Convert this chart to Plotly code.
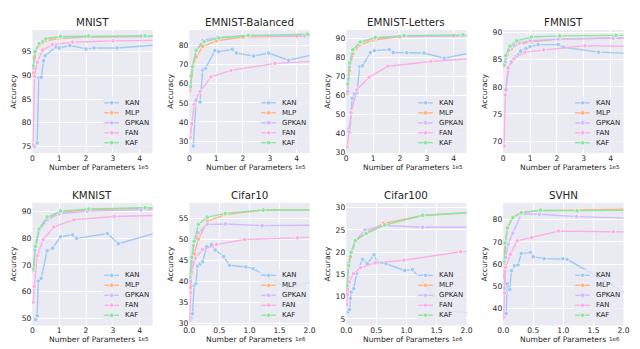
import plotly.graph_objects as go

# ---------------- data (parameters, accuracy %) ----------------
DATASETS = ["MNIST", "EMNIST-Balanced", "EMNIST-Letters", "FMNIST",
            "KMNIST", "Cifar10", "Cifar100", "SVHN"]
MODELS = ["KAN", "MLP", "GPKAN", "FAN", "KAF"]

# MNIST
MNIST_KAN_P = [0.08e5, 0.18e5, 0.24e5, 0.33e5, 0.42e5, 0.48e5, 0.88e5, 1.0e5, 1.4e5, 2.0e5, 2.3e5, 3.15e5, 4.6e5]
MNIST_KAN_A = [75.0, 75.7, 89.5, 89.6, 93.1, 94.2, 96.0, 95.8, 96.3, 95.6, 95.8, 95.8, 96.4]
MNIST_MLP_P = [0.03e5, 0.08e5, 0.15e5, 0.25e5, 0.5e5, 1.0e5, 2.0e5, 4.0e5, 4.6e5]
MNIST_MLP_A = [90.5, 93.8, 95.3, 96.3, 97.3, 97.8, 98.1, 98.2, 98.2]
MNIST_GPKAN_P = [0.05e5, 0.12e5, 0.25e5, 0.5e5, 1.0e5, 2.0e5, 4.05e5, 4.6e5]
MNIST_GPKAN_A = [91.5, 95.3, 96.8, 97.8, 98.1, 98.2, 98.3, 98.3]
MNIST_FAN_P = [0.03e5, 0.08e5, 0.18e5, 0.38e5, 0.75e5, 1.5e5, 3.0e5, 4.6e5]
MNIST_FAN_A = [75.3, 89.8, 92.8, 95.3, 96.5, 97.0, 97.3, 97.4]
MNIST_KAF_P = [0.03e5, 0.1e5, 0.25e5, 0.5e5, 1.05e5, 2.1e5, 4.2e5, 4.6e5]
MNIST_KAF_A = [92.0, 95.0, 96.7, 97.7, 98.2, 98.3, 98.35, 98.35]

# EMNIST-Balanced
EMB_KAN_P = [0.15e5, 0.25e5, 0.4e5, 0.5e5, 0.6e5, 0.95e5, 1.1e5, 1.6e5, 1.75e5, 2.4e5, 2.95e5, 3.7e5, 4.6e5]
EMB_KAN_A = [27.4, 51.4, 50.5, 67.2, 68.0, 77.4, 76.8, 78.1, 76.1, 74.5, 76.1, 72.3, 75.2]
EMB_MLP_P = [0.03e5, 0.08e5, 0.15e5, 0.25e5, 0.5e5, 1.0e5, 2.0e5, 4.0e5, 4.6e5]
EMB_MLP_A = [56.5, 64.0, 69.5, 74.0, 79.5, 82.5, 84.5, 85.0, 85.0]
EMB_GPKAN_P = [0.05e5, 0.12e5, 0.25e5, 0.5e5, 1.05e5, 2.15e5, 4.3e5, 4.6e5]
EMB_GPKAN_A = [57.5, 69.0, 77.0, 82.8, 84.3, 85.2, 85.1, 85.1]
EMB_FAN_P = [0.03e5, 0.1e5, 0.18e5, 0.4e5, 0.8e5, 1.55e5, 3.2e5, 4.6e5]
EMB_FAN_A = [32.0, 39.0, 49.0, 56.0, 63.5, 67.0, 70.7, 71.8]
EMB_KAF_P = [0.05e5, 0.12e5, 0.25e5, 0.55e5, 1.1e5, 2.2e5, 4.4e5, 4.6e5]
EMB_KAF_A = [58.5, 69.0, 77.5, 82.0, 84.0, 85.3, 86.0, 86.0]

# EMNIST-Letters
EML_KAN_P = [0.1e5, 0.13e5, 0.22e5, 0.3e5, 0.4e5, 0.5e5, 0.6e5, 0.9e5, 1.05e5, 1.6e5, 1.75e5, 2.25e5, 2.9e5, 3.65e5, 4.6e5]
EML_KAN_A = [42.5, 40.5, 58.5, 61.0, 61.5, 75.0, 75.5, 82.5, 83.5, 84.0, 82.5, 82.3, 82.2, 79.5, 82.3]
EML_MLP_P = [0.05e5, 0.12e5, 0.25e5, 0.5e5, 1.0e5, 2.0e5, 4.0e5, 4.6e5]
EML_MLP_A = [61.0, 73.0, 82.0, 86.5, 89.0, 90.7, 91.2, 91.2]
EML_GPKAN_P = [0.05e5, 0.12e5, 0.25e5, 0.5e5, 1.05e5, 2.15e5, 4.3e5, 4.6e5]
EML_GPKAN_A = [62.0, 75.0, 83.5, 87.8, 90.0, 91.0, 91.2, 91.3]
EML_FAN_P = [0.03e5, 0.1e5, 0.18e5, 0.4e5, 0.85e5, 1.55e5, 3.15e5, 4.6e5]
EML_FAN_A = [33.0, 41.0, 51.0, 63.0, 69.5, 75.3, 77.8, 79.3]
EML_KAF_P = [0.05e5, 0.12e5, 0.25e5, 0.52e5, 1.08e5, 2.15e5, 4.35e5, 4.6e5]
EML_KAF_A = [66.0, 77.0, 84.0, 88.0, 90.3, 91.3, 91.7, 91.7]

# FMNIST
FM_KAN_P = [0.1e5, 0.2e5, 0.3e5, 0.45e5, 0.65e5, 0.85e5, 1.0e5, 1.3e5, 2.05e5, 2.25e5, 3.55e5, 4.6e5]
FM_KAN_A = [79.5, 83.5, 84.6, 85.5, 86.6, 87.1, 87.4, 87.8, 87.8, 87.3, 86.4, 86.2]
FM_MLP_P = [0.05e5, 0.15e5, 0.3e5, 0.5e5, 1.05e5, 2.1e5, 4.1e5, 4.6e5]
FM_MLP_A = [84.0, 86.0, 87.0, 87.8, 88.3, 88.8, 89.0, 89.0]
FM_GPKAN_P = [0.08e5, 0.2e5, 0.4e5, 0.6e5, 1.0e5, 2.05e5, 4.1e5, 4.6e5]
FM_GPKAN_A = [84.5, 86.8, 87.6, 88.1, 88.5, 88.8, 89.0, 89.0]
FM_FAN_P = [0.03e5, 0.08e5, 0.18e5, 0.4e5, 0.8e5, 1.5e5, 3.05e5, 4.6e5]
FM_FAN_A = [69.1, 78.5, 83.5, 85.2, 86.4, 86.8, 87.6, 87.5]
FM_KAF_P = [0.03e5, 0.1e5, 0.25e5, 0.5e5, 1.05e5, 2.1e5, 4.2e5, 4.6e5]
FM_KAF_A = [84.0, 85.8, 87.5, 88.5, 89.2, 89.4, 89.5, 89.5]

# KMNIST
KM_KAN_P = [0.12e5, 0.18e5, 0.22e5, 0.33e5, 0.55e5, 0.75e5, 1.05e5, 1.5e5, 1.65e5, 2.8e5, 3.2e5, 4.6e5]
KM_KAN_A = [49.5, 51.0, 64.0, 65.0, 75.3, 76.3, 80.6, 81.3, 80.0, 81.8, 78.0, 82.0]
KM_MLP_P = [0.05e5, 0.1e5, 0.25e5, 0.55e5, 1.05e5, 2.1e5, 4.2e5, 4.6e5]
KM_MLP_A = [68.0, 76.0, 83.5, 87.5, 89.8, 90.7, 91.3, 91.3]
KM_GPKAN_P = [0.05e5, 0.1e5, 0.25e5, 0.55e5, 1.0e5, 2.05e5, 4.05e5, 4.6e5]
KM_GPKAN_A = [68.0, 75.5, 82.8, 87.0, 89.2, 90.2, 90.7, 90.8]
KM_FAN_P = [0.03e5, 0.07e5, 0.18e5, 0.4e5, 0.8e5, 1.55e5, 3.05e5, 4.6e5]
KM_FAN_A = [56.0, 62.0, 73.5, 79.5, 84.2, 87.0, 88.2, 88.6]
KM_KAF_P = [0.03e5, 0.12e5, 0.25e5, 0.55e5, 1.05e5, 2.1e5, 4.2e5, 4.6e5]
KM_KAF_A = [68.5, 77.0, 83.5, 88.0, 90.2, 91.0, 91.5, 91.5]

# Cifar10
C10_KAN_P = [0.027e6, 0.054e6, 0.08e6, 0.11e6, 0.136e6, 0.18e6, 0.22e6, 0.29e6, 0.37e6, 0.43e6, 0.57e6, 0.67e6, 0.94e6, 1.06e6, 1.33e6, 1.63e6, 2.05e6]
C10_KAN_A = [31.2, 32.3, 39.0, 39.4, 43.6, 44.1, 44.6, 48.2, 48.7, 47.4, 45.9, 43.8, 43.4, 43.0, 40.8, 38.4, 39.9]
C10_MLP_P = [0.01e6, 0.04e6, 0.08e6, 0.15e6, 0.3e6, 0.6e6, 1.22e6, 2.05e6]
C10_MLP_A = [38.5, 41.9, 46.5, 50.0, 54.3, 55.8, 56.9, 56.9]
C10_GPKAN_P = [0.01e6, 0.04e6, 0.07e6, 0.15e6, 0.3e6, 0.6e6, 1.21e6, 2.05e6]
C10_GPKAN_A = [40.0, 44.5, 48.5, 51.5, 53.5, 53.6, 53.2, 53.3]
C10_FAN_P = [0.005e6, 0.02e6, 0.04e6, 0.1e6, 0.22e6, 0.45e6, 0.92e6, 1.8e6, 2.05e6]
C10_FAN_A = [30.8, 37.3, 42.3, 45.5, 47.5, 48.7, 49.9, 50.3, 50.5]
C10_KAF_P = [0.01e6, 0.04e6, 0.08e6, 0.15e6, 0.3e6, 0.6e6, 1.23e6, 2.05e6]
C10_KAF_A = [41.0, 45.7, 49.5, 53.5, 55.2, 56.1, 56.9, 56.9]

# Cifar100
C100_KAN_P = [0.027e6, 0.054e6, 0.07e6, 0.08e6, 0.125e6, 0.17e6, 0.27e6, 0.35e6, 0.46e6, 0.52e6, 0.66e6, 0.97e6, 1.1e6, 1.46e6, 1.71e6, 2.05e6]
C100_KAN_A = [6.6, 7.1, 9.6, 11.0, 11.8, 15.2, 18.4, 17.4, 19.4, 17.7, 17.4, 15.9, 16.1, 10.2, 6.7, 6.4]
C100_MLP_P = [0.01e6, 0.04e6, 0.07e6, 0.15e6, 0.32e6, 0.62e6, 1.26e6, 2.05e6]
C100_MLP_A = [11.2, 17.0, 19.0, 22.5, 24.3, 26.5, 28.2, 28.9]
C100_GPKAN_P = [0.01e6, 0.04e6, 0.08e6, 0.14e6, 0.31e6, 0.64e6, 1.27e6, 2.05e6]
C100_GPKAN_A = [12.0, 17.5, 20.0, 22.3, 25.0, 26.0, 25.6, 25.6]
C100_FAN_P = [0.005e6, 0.02e6, 0.05e6, 0.12e6, 0.24e6, 0.48e6, 0.96e6, 1.9e6, 2.05e6]
C100_FAN_A = [8.2, 10.5, 13.3, 15.2, 16.5, 17.6, 18.2, 20.1, 20.1]
C100_KAF_P = [0.01e6, 0.04e6, 0.08e6, 0.15e6, 0.33e6, 0.64e6, 1.27e6, 2.05e6]
C100_KAF_A = [12.5, 17.0, 20.0, 22.6, 24.2, 26.1, 28.3, 28.9]

# SVHN
SV_KAN_P = [0.027e6, 0.05e6, 0.065e6, 0.11e6, 0.136e6, 0.19e6, 0.245e6, 0.3e6, 0.45e6, 0.5e6, 0.68e6, 0.99e6, 1.06e6, 1.6e6, 2.05e6]
SV_KAN_A = [36.5, 37.8, 51.2, 48.7, 57.1, 59.3, 59.6, 64.8, 65.3, 63.4, 62.5, 62.5, 62.2, 54.0, 46.8]
SV_MLP_P = [0.01e6, 0.04e6, 0.07e6, 0.15e6, 0.3e6, 0.6e6, 1.22e6, 2.05e6]
SV_MLP_A = [54.5, 70.0, 76.0, 81.0, 83.3, 84.1, 84.3, 84.8]
SV_GPKAN_P = [0.01e6, 0.04e6, 0.08e6, 0.16e6, 0.3e6, 0.6e6, 1.22e6, 2.05e6]
SV_GPKAN_A = [49.0, 63.0, 69.0, 74.0, 82.7, 82.5, 81.4, 80.8]
SV_FAN_P = [0.005e6, 0.02e6, 0.04e6, 0.12e6, 0.23e6, 0.47e6, 0.92e6, 1.83e6, 2.05e6]
SV_FAN_A = [36.0, 47.0, 58.5, 64.5, 70.5, 72.0, 74.9, 74.6, 74.5]
SV_KAF_P = [0.01e6, 0.03e6, 0.07e6, 0.16e6, 0.3e6, 0.62e6, 1.23e6, 2.05e6]
SV_KAF_A = [61.0, 69.5, 76.3, 81.0, 83.2, 84.3, 84.1, 84.2]

# axis tick labels
X_TICKS_1E5 = [0, 1e5, 2e5, 3e5, 4e5]
X_TICKTEXT_1E5 = ["0", "1", "2", "3", "4"]
X_TICKS_1E6 = [0, 0.5e6, 1.0e6, 1.5e6, 2.0e6]
X_TICKTEXT_1E6 = ["0.0", "0.5", "1.0", "1.5", "2.0"]
Y_TICKS = {
    "MNIST": [75, 80, 85, 90, 95],
    "EMNIST-Balanced": [30, 40, 50, 60, 70, 80],
    "EMNIST-Letters": [30, 40, 50, 60, 70, 80, 90],
    "FMNIST": [70, 75, 80, 85, 90],
    "KMNIST": [50, 60, 70, 80, 90],
    "Cifar10": [30, 35, 40, 45, 50, 55],
    "Cifar100": [5, 10, 15, 20, 25, 30],
    "SVHN": [40, 50, 60, 70, 80],
}

SERIES = {
    "MNIST": [(MNIST_KAN_P, MNIST_KAN_A), (MNIST_MLP_P, MNIST_MLP_A), (MNIST_GPKAN_P, MNIST_GPKAN_A), (MNIST_FAN_P, MNIST_FAN_A), (MNIST_KAF_P, MNIST_KAF_A)],
    "EMNIST-Balanced": [(EMB_KAN_P, EMB_KAN_A), (EMB_MLP_P, EMB_MLP_A), (EMB_GPKAN_P, EMB_GPKAN_A), (EMB_FAN_P, EMB_FAN_A), (EMB_KAF_P, EMB_KAF_A)],
    "EMNIST-Letters": [(EML_KAN_P, EML_KAN_A), (EML_MLP_P, EML_MLP_A), (EML_GPKAN_P, EML_GPKAN_A), (EML_FAN_P, EML_FAN_A), (EML_KAF_P, EML_KAF_A)],
    "FMNIST": [(FM_KAN_P, FM_KAN_A), (FM_MLP_P, FM_MLP_A), (FM_GPKAN_P, FM_GPKAN_A), (FM_FAN_P, FM_FAN_A), (FM_KAF_P, FM_KAF_A)],
    "KMNIST": [(KM_KAN_P, KM_KAN_A), (KM_MLP_P, KM_MLP_A), (KM_GPKAN_P, KM_GPKAN_A), (KM_FAN_P, KM_FAN_A), (KM_KAF_P, KM_KAF_A)],
    "Cifar10": [(C10_KAN_P, C10_KAN_A), (C10_MLP_P, C10_MLP_A), (C10_GPKAN_P, C10_GPKAN_A), (C10_FAN_P, C10_FAN_A), (C10_KAF_P, C10_KAF_A)],
    "Cifar100": [(C100_KAN_P, C100_KAN_A), (C100_MLP_P, C100_MLP_A), (C100_GPKAN_P, C100_GPKAN_A), (C100_FAN_P, C100_FAN_A), (C100_KAF_P, C100_KAF_A)],
    "SVHN": [(SV_KAN_P, SV_KAN_A), (SV_MLP_P, SV_MLP_A), (SV_GPKAN_P, SV_GPKAN_A), (SV_FAN_P, SV_FAN_A), (SV_KAF_P, SV_KAF_A)],
}

# ---------------- styling ----------------
COLORS = ["#a1c9f4", "#ffb482", "#d0bbff", "#fab0e4", "#8de5a1"]
Y_RANGES = {
    "MNIST": [73.6, 99.6], "EMNIST-Balanced": [23.7, 88.2], "EMNIST-Letters": [29.8, 94.3],
    "FMNIST": [67.8, 90.5], "KMNIST": [47.3, 93.3], "Cifar10": [29.5, 58.6],
    "Cifar100": [3.5, 31.1], "SVHN": [32.4, 87.6],
}
# the page body keeps its default 8px margin, so the figure is placed at (8, 8)
OX, OY = 8, 8
W, H = 640 - OX, 349 - OY
FONT = "DejaVu Sans"
TXT = "#262626"
BG = "#eaeaf2"

# positions measured in window pixels
COL_LEFT = [26.7, 186.7, 346.7, 506.7]
AX_W = 122.6
ROW_TOP = [28.3, 204.3]
ROW_BOT = [153.6, 329.2]


def fx(px):
    return (px - OX) / W


def fy(py):
    return 1 - (py - OY) / H


fig = go.Figure()
shapes = []
annotations = []
layout = {}

for i, ds in enumerate(DATASETS):
    r, c = divmod(i, 4)
    n = i + 1
    xa = "x" if n == 1 else f"x{n}"
    ya = "y" if n == 1 else f"y{n}"
    left, right = COL_LEFT[c], COL_LEFT[c] + AX_W
    top, bot = ROW_TOP[r], ROW_BOT[r]
    big = ds in ("Cifar10", "Cifar100", "SVHN")

    for k, model in enumerate(MODELS):
        px_, acc = SERIES[ds][k]
        fig.add_trace(go.Scatter(
            x=px_, y=acc, mode="lines+markers", name=model, xaxis=xa, yaxis=ya,
            line=dict(color=COLORS[k], width=1.4),
            marker=dict(color=COLORS[k], size=4.5, line=dict(color="white", width=0.6)),
            showlegend=False, cliponaxis=True))

    layout["xaxis" if n == 1 else f"xaxis{n}"] = dict(
        domain=[fx(left), fx(right)], anchor=ya,
        range=[0, 2.0e6] if big else [0, 4.48e5],
        tickvals=X_TICKS_1E6 if big else X_TICKS_1E5,
        ticktext=X_TICKTEXT_1E6 if big else X_TICKTEXT_1E5,
        showgrid=True, gridcolor="white", gridwidth=1, zeroline=False,
        showline=False, ticks="", ticklabelstandoff=-1,
        tickfont=dict(family=FONT, size=7.6, color=TXT),
        fixedrange=True)
    layout["yaxis" if n == 1 else f"yaxis{n}"] = dict(
        domain=[fy(bot), fy(top)], anchor=xa,
        range=Y_RANGES[ds], tickvals=Y_TICKS[ds],
        showgrid=True, gridcolor="white", gridwidth=1, zeroline=False,
        showline=False, ticks="", tickfont=dict(family=FONT, size=7.6, color=TXT),
        fixedrange=True)

    cx = (left + right) / 2
    annotations.append(dict(text=ds, x=fx(cx), y=fy(top - 8.2), xref="paper", yref="paper",
                            showarrow=False, xanchor="center", yanchor="middle",
                            font=dict(family=FONT, size=10.3, color=TXT)))
    annotations.append(dict(text="Number of Parameters", x=fx(cx), y=fy(bot + 14.4),
                            xref="paper", yref="paper", showarrow=False,
                            xanchor="center", yanchor="middle",
                            font=dict(family=FONT, size=7.6, color=TXT)))
    annotations.append(dict(text="Accuracy", x=fx(left - 19.4), y=fy((top + bot) / 2),
                            xref="paper", yref="paper", showarrow=False, textangle=-90,
                            xanchor="center", yanchor="middle",
                            font=dict(family=FONT, size=7.6, color=TXT)))
    annotations.append(dict(text="1e6" if big else "1e5", x=fx(right - 1.5), y=fy(bot + 13.8),
                            xref="paper", yref="paper", showarrow=False,
                            xanchor="right", yanchor="middle",
                            font=dict(family=FONT, size=5.6, color=TXT)))

    # legend (drawn inside the axes, lower right)
    axh = bot - top
    xd = f"{xa} domain"
    yd = f"{ya} domain"
    shapes.append(dict(type="rect", xref=xd, yref=yd,
                       x0=(98.3 - 26.7) / AX_W, x1=(148.6 - 26.7) / AX_W,
                       y0=3.3 / axh, y1=57.3 / axh,
                       fillcolor="rgba(234,234,242,0.8)", line=dict(width=0), layer="above"))
    for k, model in enumerate(MODELS):
        yy = (10.5 + (4 - k) * 10.15) / axh
        x0 = (100.0 - 26.7) / AX_W
        x1 = (115.0 - 26.7) / AX_W
        shapes.append(dict(type="line", xref=xd, yref=yd, x0=x0, x1=x1, y0=yy, y1=yy,
                           line=dict(color=COLORS[k], width=1.4), layer="above"))
        shapes.append(dict(type="circle", xref=xd, yref=yd,
                           xsizemode="pixel", ysizemode="pixel",
                           xanchor=(x0 + x1) / 2, yanchor=yy,
                           x0=-2.2, x1=2.2, y0=-2.2, y1=2.2,
                           fillcolor=COLORS[k], line=dict(color="white", width=0.5),
                           layer="above"))
        annotations.append(dict(text=model, xref=xd, yref=yd, x=(119.3 - 26.7) / AX_W, y=yy,
                                showarrow=False, xanchor="left", yanchor="middle",
                                font=dict(family=FONT, size=7.0, color=TXT)))

fig.update_layout(
    width=W, height=H, margin=dict(l=0, r=0, t=0, b=0),
    paper_bgcolor="white", plot_bgcolor=BG,
    font=dict(family=FONT, color=TXT),
    showlegend=False, shapes=shapes, annotations=annotations, **layout)

fig.write_html("out.html")
